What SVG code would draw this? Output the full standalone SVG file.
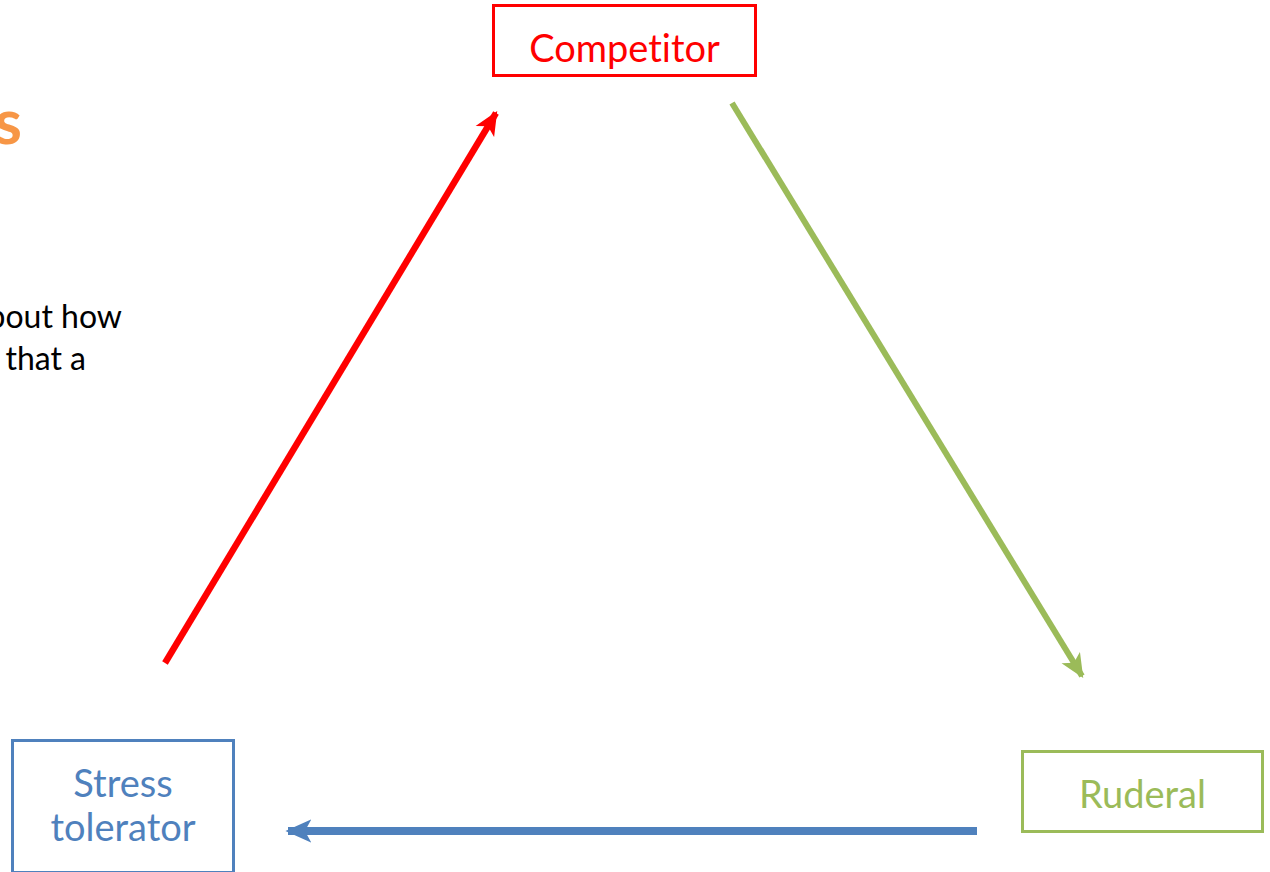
<svg xmlns="http://www.w3.org/2000/svg" width="1270" height="872" viewBox="0 0 1270 872">
  <style>
    .lbl { font-family: Lato, "Open Sans", "Liberation Sans", sans-serif; font-size: 38px; text-anchor: middle; font-variant-ligatures: none; }
    .box { fill: #FFFFFF; stroke-width: 3; }
    .body { font-family: Lato, "Open Sans", "Liberation Sans", sans-serif; font-size: 32px; fill: #000000; text-anchor: end; }
  </style>
  <defs>
    <marker id="headRed" viewBox="0 0 20 20" refX="18" refY="10" markerWidth="24" markerHeight="24" markerUnits="userSpaceOnUse" orient="auto">
      <path d="M0,1 L20,10 L0,19 L5,10 Z" fill="#FF0000"/>
    </marker>
    <marker id="headGreen" viewBox="0 0 20 20" refX="18" refY="10" markerWidth="24" markerHeight="24" markerUnits="userSpaceOnUse" orient="auto">
      <path d="M0,1 L20,10 L0,19 L5,10 Z" fill="#9BBB59"/>
    </marker>
    <marker id="headBlue" viewBox="0 0 20 20" refX="18" refY="10" markerWidth="26" markerHeight="26" markerUnits="userSpaceOnUse" orient="auto">
      <path d="M0,1 L20,10 L0,19 L5,10 Z" fill="#4F81BD"/>
    </marker>
  </defs>

  <!-- text running in from the left edge -->
  <text x="22" y="144" font-family="Lato, 'Open Sans', 'Liberation Sans', sans-serif" font-size="63" font-weight="bold" fill="#F79646" text-anchor="end">s</text>
  <text class="body" x="122" y="328">bout how</text>
  <text class="body" x="86" y="370">that a</text>

  <g id="connectors">
    <line x1="165" y1="663" x2="496" y2="113" stroke="#FF0000" stroke-width="6.5" marker-end="url(#headRed)"/>
    <line x1="732" y1="103" x2="1082" y2="676" stroke="#9BBB59" stroke-width="6" marker-end="url(#headGreen)"/>
    <line x1="977" y1="831" x2="288" y2="831" stroke="#4F81BD" stroke-width="8" marker-end="url(#headBlue)"/>
  </g>

  <g id="competitor">
    <rect class="box" x="493.5" y="5.5" width="262" height="70" stroke="#FF0000"/>
    <text class="lbl" x="624.5" y="62" fill="#FF0000">Competitor</text>
  </g>

  <g id="stress-tolerator">
    <rect class="box" x="12.5" y="740.5" width="221" height="132" stroke="#4F81BD"/>
    <text class="lbl" x="123" y="797" fill="#4F81BD">Stress</text>
    <text class="lbl" x="123" y="841" fill="#4F81BD">tolerator</text>
  </g>

  <g id="ruderal">
    <rect class="box" x="1022.5" y="751.5" width="240" height="80" stroke="#9BBB59"/>
    <text class="lbl" x="1142.5" y="808" fill="#9BBB59">Ruderal</text>
  </g>
</svg>
